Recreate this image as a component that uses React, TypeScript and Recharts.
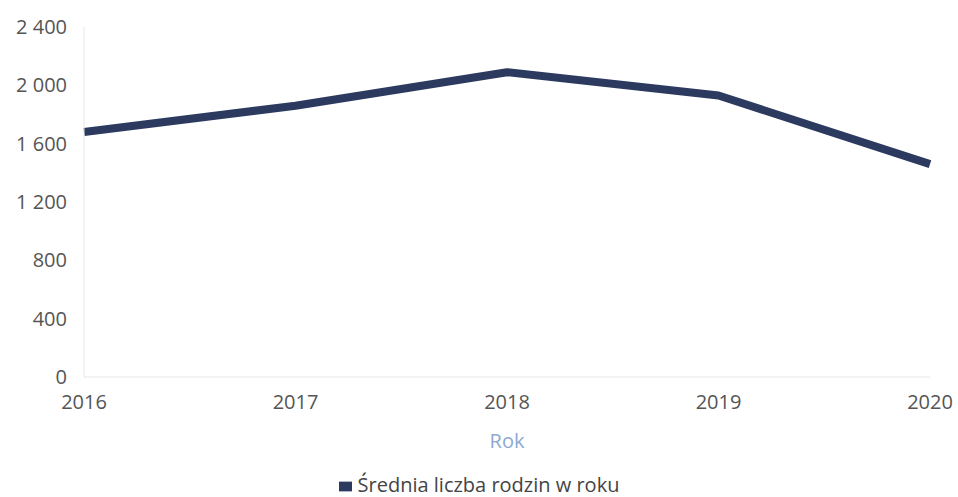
import { Legend, Line, LineChart, XAxis, YAxis } from 'recharts'

const years = ['2016', '2017', '2018', '2019', '2020']
const families = [1680, 1860, 2090, 1930, 1460]
const yTicks = [0, 400, 800, 1200, 1600, 2000, 2400]

const SERIES = 'Średnia liczba rodzin w roku'
const NAVY = '#2b3a5e'
const FONT = '"Open Sans", "Noto Sans", sans-serif'

const data = years.map((year, i) => ({ year, value: families[i] }))

// thousands separated with a space, like "2 400"
const fmt = (v: number) => String(v).replace(/\B(?=(\d{3})+(?!\d))/g, ' ')

export default function App() {
  return (
    <div style={{ position: 'absolute', left: 0, top: 0, width: 958, height: 497, background: '#fff', fontFamily: FONT }}>
      <LineChart
        width={958}
        height={497}
        data={data}
        margin={{ top: 27, right: 28, bottom: 0, left: 0 }}
      >
        <XAxis
          dataKey="year"
          axisLine={{ stroke: '#e6e6e6' }}
          tickLine={false}
          tickSize={0}
          tickMargin={18}
          height={96}
          tick={{ fontSize: 20, fill: '#555555', fontFamily: FONT }}
          label={{
            value: 'Rok',
            position: 'insideBottom',
            offset: 25,
            fill: '#8ea8d2',
            fontSize: 20,
            fontFamily: FONT,
          }}
        />
        <YAxis
          domain={[0, 2400]}
          ticks={yTicks}
          width={84}
          axisLine={{ stroke: '#e6e6e6' }}
          tickLine={false}
          tickSize={0}
          tickMargin={17}
          tickFormatter={fmt}
          tick={{ fontSize: 20, fill: '#555555', fontFamily: FONT }}
        />
        <Legend
          verticalAlign="bottom"
          iconType="rect"
          iconSize={13}
          wrapperStyle={{
            fontSize: 20,
            lineHeight: '24px',
            fontFamily: FONT,
            bottom: 0,
            left: 0,
            width: 958,
            paddingLeft: 10,
            boxSizing: 'border-box',
          }}
          formatter={(v) => <span style={{ color: '#444444', marginLeft: 2 }}>{v}</span>}
        />
        <Line
          name={SERIES}
          dataKey="value"
          type="linear"
          stroke={NAVY}
          strokeWidth={8}
          strokeLinejoin="round"
          dot={false}
          activeDot={false}
          isAnimationActive={false}
        />
      </LineChart>
    </div>
  )
}
